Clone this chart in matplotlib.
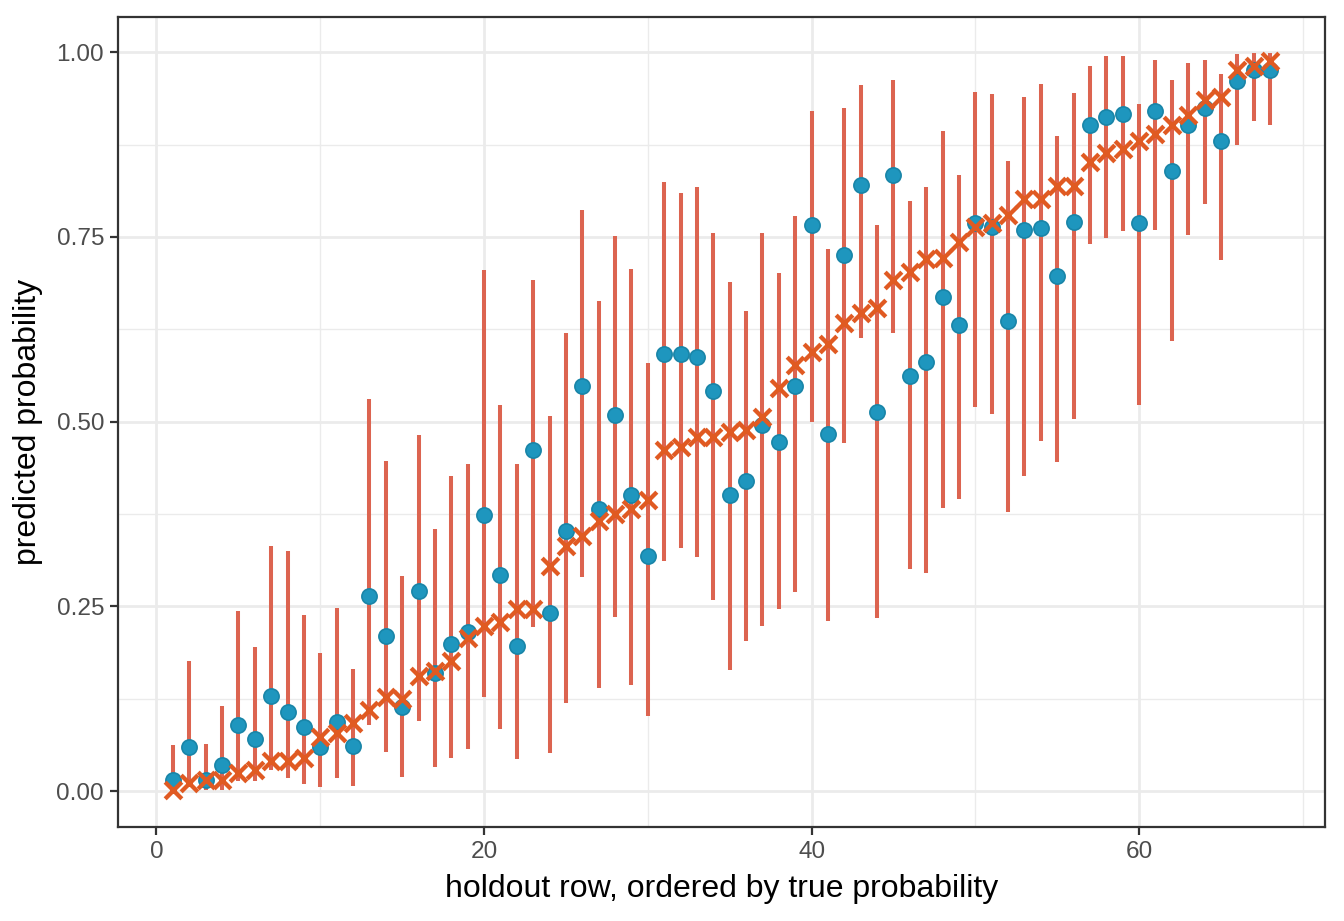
#!/usr/bin/env python3
"""Holdout calibration plot: predicted probability with intervals vs true probability."""
import numpy as np
import matplotlib
matplotlib.use("Agg")
import matplotlib.pyplot as plt

# row index on the holdout set (ordered by true probability)
row = np.arange(1, 69)

# true probability (orange crosses)
truth = [0.002, 0.011, 0.015, 0.015, 0.024, 0.028, 0.040, 0.040, 0.045, 0.073,
         0.079, 0.092, 0.110, 0.127, 0.125, 0.156, 0.163, 0.176, 0.207, 0.223,
         0.229, 0.247, 0.247, 0.304, 0.331, 0.345, 0.366, 0.375, 0.382, 0.394,
         0.461, 0.465, 0.479, 0.479, 0.486, 0.489, 0.506, 0.545, 0.576, 0.594,
         0.605, 0.634, 0.647, 0.654, 0.692, 0.702, 0.720, 0.721, 0.743, 0.764,
         0.769, 0.780, 0.801, 0.801, 0.819, 0.819, 0.852, 0.864, 0.869, 0.880,
         0.889, 0.901, 0.915, 0.936, 0.940, 0.976, 0.982, 0.988]

# predicted probability (blue points)
pred = [0.015, 0.059, 0.015, 0.035, 0.090, 0.071, 0.129, 0.107, 0.086, 0.059,
        0.094, 0.061, 0.264, 0.210, 0.114, 0.271, 0.160, 0.199, 0.215, 0.374,
        0.292, 0.196, 0.462, 0.241, 0.352, 0.548, 0.382, 0.509, 0.401, 0.318,
        0.592, 0.592, 0.587, 0.541, 0.401, 0.419, 0.496, 0.472, 0.548, 0.766,
        0.483, 0.726, 0.820, 0.513, 0.834, 0.562, 0.581, 0.669, 0.631, 0.769,
        0.764, 0.636, 0.759, 0.762, 0.697, 0.770, 0.902, 0.912, 0.916, 0.769,
        0.921, 0.839, 0.901, 0.924, 0.880, 0.961, 0.976, 0.976]

# interval bounds (red bars)
lower = [0.000, 0.006, 0.001, 0.002, 0.013, 0.013, 0.028, 0.018, 0.009, 0.006,
         0.017, 0.007, 0.089, 0.053, 0.019, 0.095, 0.032, 0.045, 0.057, 0.127,
         0.084, 0.043, 0.222, 0.052, 0.119, 0.290, 0.140, 0.235, 0.144, 0.101,
         0.311, 0.329, 0.317, 0.258, 0.164, 0.203, 0.224, 0.246, 0.269, 0.500,
         0.230, 0.471, 0.613, 0.234, 0.620, 0.301, 0.295, 0.383, 0.395, 0.520,
         0.510, 0.378, 0.426, 0.474, 0.446, 0.503, 0.741, 0.749, 0.758, 0.523,
         0.759, 0.609, 0.753, 0.794, 0.719, 0.875, 0.907, 0.901]
upper = [0.062, 0.176, 0.064, 0.115, 0.244, 0.195, 0.332, 0.325, 0.238, 0.187,
         0.248, 0.165, 0.530, 0.447, 0.291, 0.482, 0.355, 0.426, 0.443, 0.705,
         0.522, 0.442, 0.692, 0.508, 0.620, 0.786, 0.663, 0.751, 0.707, 0.580,
         0.825, 0.809, 0.817, 0.755, 0.689, 0.650, 0.755, 0.701, 0.778, 0.920,
         0.734, 0.924, 0.955, 0.766, 0.963, 0.799, 0.818, 0.893, 0.834, 0.946,
         0.944, 0.853, 0.940, 0.957, 0.887, 0.945, 0.981, 0.995, 0.995, 0.930,
         0.990, 0.962, 0.985, 0.990, 0.971, 0.997, 0.999, 0.999]

plt.rcParams.update({
    "font.family": ["Liberation Sans", "DejaVu Sans"],
    "savefig.dpi": 200,
})

fig = plt.figure(figsize=(6.72, 4.605))
ax = fig.add_axes([118 / 1344, 1 - 827 / 921, (1325 - 118) / 1344, (827 - 17) / 921])

ax.vlines(row, lower, upper, color="#DC6450", lw=1.45, zorder=3)
ax.scatter(row, pred, s=30, color="#1E96BE", edgecolor="#1985A8", lw=0.6, zorder=4)
ax.scatter(row, truth, marker="x", s=36, color="#E05A22", lw=1.55, zorder=5)

ax.set_xlim(-2.35, 71.35)
ax.set_ylim(-0.0487, 1.0477)
ax.set_xticks([0, 20, 40, 60])
ax.set_xticks([10, 30, 50, 70], minor=True)
ax.set_yticks([0, 0.25, 0.5, 0.75, 1.0])
ax.set_yticks([0.125, 0.375, 0.625, 0.875], minor=True)
ax.set_yticklabels(["0.00", "0.25", "0.50", "0.75", "1.00"])

ax.grid(True, which="major", color="#EBEBEB", lw=1.0, zorder=0)
ax.grid(True, which="minor", color="#EBEBEB", lw=0.5, zorder=0)
ax.set_axisbelow(True)
for sp in ax.spines.values():
    sp.set_color("#333333")
    sp.set_linewidth(0.8)
ax.tick_params(which="major", length=3, width=0.8, color="#333333",
               labelcolor="#4D4D4D", labelsize=8.8, pad=2)
ax.tick_params(which="minor", length=0)

ax.set_xlabel("holdout row, ordered by true probability", fontsize=11.5, labelpad=4)
ax.set_ylabel("predicted probability", fontsize=11.5, labelpad=5)

fig.savefig("out.png", dpi=200, facecolor="white")
